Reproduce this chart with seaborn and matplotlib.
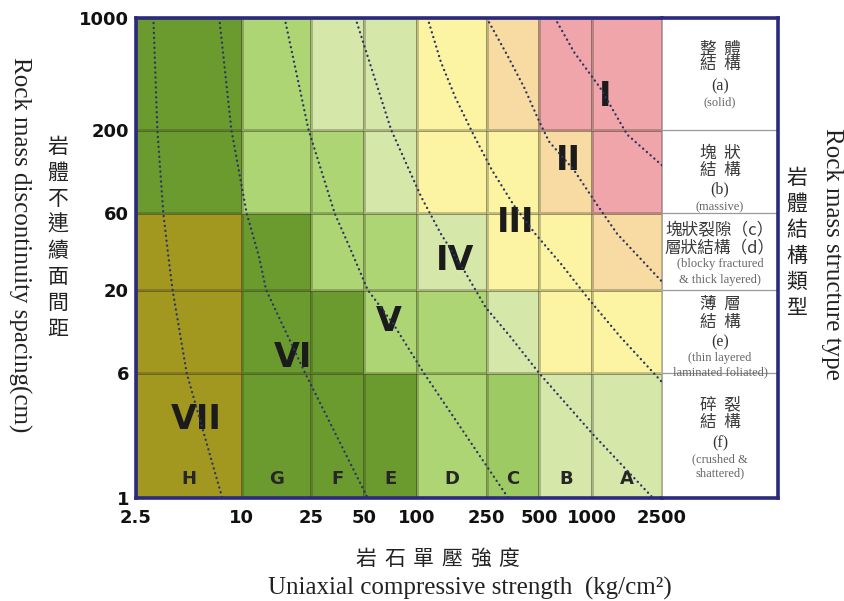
import numpy as np
import pandas as pd
import matplotlib
matplotlib.use("Agg")
import matplotlib.pyplot as plt
from matplotlib.colors import ListedColormap
from matplotlib.ticker import NullLocator
import seaborn as sns

# ---- classification grid -------------------------------------------------
strength_edges = [2.5, 10, 25, 50, 100, 250, 500, 1000, 2500]
strength_labels = ["2.5", "10", "25", "50", "100", "250", "500", "1000", "2500"]
strength_classes = ["H", "G", "F", "E", "D", "C", "B", "A"]

spacing_edges = [1, 6, 20, 60, 200, 1000]
spacing_labels = ["1", "6", "20", "60", "200", "1000"]

# colour key of each cell, columns H..A, one list per structure band
cells_f = ["olive", "dark", "dark", "dark", "light", "mid", "pale", "pale"]
cells_e = ["olive", "dark", "dark", "light", "light", "pale", "yellow", "yellow"]
cells_cd = ["olive", "dark", "light", "light", "pale", "yellow", "yellow", "peach"]
cells_b = ["dark", "light", "light", "pale", "yellow", "yellow", "peach", "pink"]
cells_a = ["dark", "light", "pale", "pale", "yellow", "peach", "pink", "pink"]

palette = {
    "olive": "#a29820",
    "dark": "#6b9b2f",
    "mid": "#9dca62",
    "light": "#add574",
    "pale": "#d6e8a9",
    "yellow": "#fcf4a3",
    "peach": "#f8dba2",
    "pink": "#efa5aa",
}

# ---- rock mass class boundaries (strength kg/cm2, spacing cm) -------------
curve_I_strength = [612, 787, 1110, 1581, 2500]
curve_I_spacing = [1000, 613, 366, 187, 120]
curve_II_strength = [250, 327, 410, 500, 567, 787, 1067, 1387, 2500]
curve_II_spacing = [1000, 588, 366, 224, 169, 112, 67.9, 44.8, 22.5]
curve_III_strength = [115, 137, 166, 210, 268, 356, 473, 668, 939, 1443, 2500]
curve_III_spacing = [1000, 531, 317, 187, 112, 67.9, 44.8, 28.8, 17.9, 10.2, 5.3]
curve_IV_strength = [44.6, 71.3, 106, 137, 186, 247, 341, 500, 1013, 2222]
curve_IV_spacing = [1000, 200, 75.9, 44.8, 26.4, 15.5, 10.2, 6, 2.49, 1]
curve_V_strength = [17.6, 24.1, 34.0, 41.3, 52.4, 73.5, 110, 332]
curve_V_spacing = [1000, 200, 60, 37.0, 20, 12.2, 6, 1]
curve_VI_strength = [7.46, 8.75, 10.7, 12.6, 13.8, 23.1, 52.4]
curve_VI_spacing = [1000, 200, 60, 31.9, 20, 6, 1]
curve_VII_strength = [3.14, 3.31, 3.58, 3.83, 4.04, 4.87, 7.76]
curve_VII_spacing = [1000, 200, 60, 31.9, 20, 6, 1]

class_names = ["I", "II", "III", "IV", "V", "VI", "VII"]
class_label_at = [(1185, 321), (730, 128), (366, 53), (164, 30.6),
                  (69, 12.6), (19.6, 7.5), (5.5, 3.1)]

# structure-type descriptions, top band first
panel_lines = [
    [("整  體", "cjk", 49), ("結  構", "cjk", 65), ("(a)", "letter", 86), ("(solid)", "note", 102)],
    [("塊  狀", "cjk", 153), ("結  構", "cjk", 170), ("(b)", "letter", 189), ("(massive)", "note", 207)],
    [("塊狀裂隙（c）", "cjk", 231), ("層狀結構（d）", "cjk", 248),
     ("(blocky fractured", "note", 264), ("& thick layered)", "note", 280)],
    [("薄  層", "cjk", 304), ("結  構", "cjk", 322), ("(e)", "letter", 342),
     ("(thin layered", "note", 358), ("laminated foliated)", "note", 372)],
    [("碎  裂", "cjk", 405), ("結  構", "cjk", 423), ("(f)", "letter", 443),
     ("(crushed &", "note", 459), ("shattered)", "note", 473)],
]

# ---- style ---------------------------------------------------------------
sns.set_style("white")
plt.rcParams["font.family"] = ["DejaVu Sans", "Noto Sans CJK TC"]
CJK = ["Noto Sans CJK TC", "DejaVu Sans"]
SERIF = ["Liberation Serif", "DejaVu Serif"]
NAVY = "#2b2a7e"
DOT = "#2c3463"

W, H = 845, 601
fig = plt.figure(figsize=(W / 100, H / 100), dpi=100)


def fx(px):
    return px / W


def fy(py):
    return 1 - py / H


ax = fig.add_axes([fx(136), fy(498), fx(662 - 136), (498 - 18) / H])
pax = fig.add_axes([fx(662), fy(498), fx(778 - 662), (498 - 18) / H])

# ---- coloured cells --------------------------------------------------------
keys = list(palette)
cmap = ListedColormap([palette[k] for k in keys])
rows = [cells_f, cells_e, cells_cd, cells_b, cells_a]
codes = np.array([[keys.index(c) for c in r] for r in rows])

ax.set_xscale("log")
ax.set_yscale("log")
ax.pcolormesh(strength_edges, spacing_edges, codes, cmap=cmap,
              vmin=-0.5, vmax=len(keys) - 0.5,
              edgecolors=(0.2, 0.2, 0.1, 0.28), linewidth=0.9, zorder=1)

# ---- dotted class boundaries ----------------------------------------------
curves = [
    (curve_I_strength, curve_I_spacing),
    (curve_II_strength, curve_II_spacing),
    (curve_III_strength, curve_III_spacing),
    (curve_IV_strength, curve_IV_spacing),
    (curve_V_strength, curve_V_spacing),
    (curve_VI_strength, curve_VI_spacing),
    (curve_VII_strength, curve_VII_spacing),
]
for xs, ys in curves:
    df = pd.DataFrame({"strength": xs, "spacing": ys})
    sns.lineplot(data=df, x="strength", y="spacing", sort=False, estimator=None,
                 color=DOT, lw=1.7, linestyle=(0, (0.05, 2.05)),
                 dash_capstyle="round", solid_joinstyle="round",
                 ax=ax, zorder=5)

for name, (sx, sy) in zip(class_names, class_label_at):
    ax.text(sx, sy, name, ha="center", va="center", fontsize=24,
            fontweight="bold", color="#1b1b1b", zorder=4)

for i, cls in enumerate(strength_classes):
    cx = np.sqrt(strength_edges[i] * strength_edges[i + 1])
    ax.text(cx, 1.32, cls, ha="center", va="center", fontsize=13,
            fontweight="bold", color="#262626", zorder=4)

ax.set_xlim(strength_edges[0], strength_edges[-1])
ax.set_ylim(spacing_edges[0], spacing_edges[-1])
ax.set(xlabel="", ylabel="")
ax.set_xticks(strength_edges, strength_labels, fontsize=13, fontweight="bold")
ax.set_yticks(spacing_edges, spacing_labels, fontsize=13, fontweight="bold")
ax.xaxis.set_minor_locator(NullLocator())
ax.yaxis.set_minor_locator(NullLocator())
ax.tick_params(axis="x", length=0, pad=8, colors="#111111")
ax.tick_params(axis="y", length=0, pad=5, colors="#111111")
ax.grid(False)
for side in ["left", "top", "bottom"]:
    ax.spines[side].set_color(NAVY)
    ax.spines[side].set_linewidth(2.6)
    ax.spines[side].set_zorder(6)
ax.spines["right"].set_visible(False)

# ---- description panel ----------------------------------------------------
pax.set_yscale("log")
pax.set_xlim(0, 1)
pax.set_ylim(spacing_edges[0], spacing_edges[-1])
pax.set_facecolor("white")
for edge in spacing_edges[1:-1]:
    pax.axhline(edge, color="#9a9a9a", lw=0.9)
pax.set_xticks([])
pax.set_yticks([])
pax.yaxis.set_minor_locator(NullLocator())
for side in ["right", "top", "bottom"]:
    pax.spines[side].set_color(NAVY)
    pax.spines[side].set_linewidth(2.6)
pax.spines["left"].set_color("#9a9a9a")
pax.spines["left"].set_linewidth(0.6)

styles = {
    "cjk": dict(fontsize=12, family=CJK, color="#3a3a3a"),
    "letter": dict(fontsize=11.5, family=SERIF, color="#333333"),
    "note": dict(fontsize=9, family=SERIF, color="#666666"),
}
for band in panel_lines:
    for text, kind, py in band:
        fig.text(fx(720), fy(py), text, ha="center", va="center", **styles[kind])

# ---- axis titles ----------------------------------------------------------
fig.text(fx(20), fy(245), "Rock mass discontinuity spacing(cm)", rotation=-90,
         ha="center", va="center", fontsize=18, family=SERIF, color="#222222")
for i, ch in enumerate("岩體不連續面間距"):
    fig.text(fx(58), fy(147 + 26 * i), ch, ha="center", va="center",
             fontsize=15, family=CJK, color="#222222")

fig.text(fx(832), fy(254), "Rock mass structure type", rotation=-90,
         ha="center", va="center", fontsize=18, family=SERIF, color="#222222")
for i, ch in enumerate("岩體結構類型"):
    fig.text(fx(797), fy(178 + 26 * i), ch, ha="center", va="center",
             fontsize=15, family=CJK, color="#222222")

for i, ch in enumerate("岩石單壓強度"):
    fig.text(fx(366 + 28.5 * i), fy(559), ch, ha="center", va="center",
             fontsize=15, family=CJK, color="#222222")
fig.text(fx(470), fy(588), "Uniaxial compressive strength  (kg/cm²)",
         ha="center", va="center", fontsize=18, family=SERIF, color="#222222")

fig.savefig("out.png", dpi=100, facecolor="white")
